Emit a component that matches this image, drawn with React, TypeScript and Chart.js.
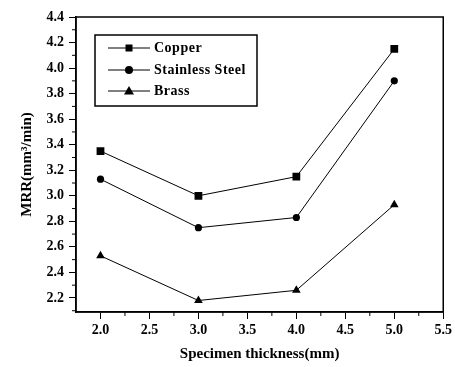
import React, { useEffect, useRef } from "react";
import { Chart, registerables } from "chart.js";

Chart.register(...registerables);

const thickness = [2.0, 3.0, 4.0, 5.0];
const copper = [3.35, 3.0, 3.15, 4.15];
const stainless = [3.13, 2.75, 2.83, 3.9];
const brass = [2.53, 2.18, 2.26, 2.93];
const seriesNames = ["Copper", "Stainless Steel", "Brass"];
const seriesStyles = ["rect", "circle", "triangle"];
const xTicks = [2.0, 2.5, 3.0, 3.5, 4.0, 4.5, 5.0, 5.5];
const yTicks = [2.2, 2.4, 2.6, 2.8, 3.0, 3.2, 3.4, 3.6, 3.8, 4.0, 4.2, 4.4];

const FONT = "'Liberation Serif', serif";

const decor = {
  id: "decor",
  afterDraw(chart: any) {
    const { ctx, chartArea: a, scales } = chart;
    ctx.save();
    ctx.strokeStyle = "#000";
    ctx.lineWidth = 1.5;
    ctx.strokeRect(a.left, a.top, a.right - a.left, a.bottom - a.top);
    // minor ticks
    ctx.lineWidth = 1;
    ctx.beginPath();
    for (let i = 0; i < xTicks.length - 1; i++) {
      const v = (xTicks[i] + xTicks[i + 1]) / 2;
      const px = scales.x.getPixelForValue(v);
      ctx.moveTo(px, a.bottom);
      ctx.lineTo(px, a.bottom + 4);
    }
    const ymin = scales.y.min;
    for (let v = 2.1; v < 4.45; v += 0.2) {
      if (v < ymin) continue;
      const py = scales.y.getPixelForValue(v);
      ctx.moveTo(a.left, py);
      ctx.lineTo(a.left - 4, py);
    }
    ctx.stroke();
    // legend
    const bx = 95, by = 35, bw = 162, bh = 71;
    ctx.lineWidth = 1.5;
    ctx.strokeRect(bx, by, bw, bh);
    const rows = [48, 70, 91];
    ctx.font = "bold 14px " + FONT;
    try { (ctx as any).letterSpacing = "0.5px"; } catch (e) {}
    ctx.textBaseline = "middle";
    ctx.fillStyle = "#000";
    rows.forEach((ry, i) => {
      ctx.lineWidth = 1;
      ctx.beginPath();
      ctx.moveTo(108, ry);
      ctx.lineTo(150, ry);
      ctx.stroke();
      const cx = 129;
      ctx.beginPath();
      if (i === 0) {
        ctx.rect(cx - 3.5, ry - 3.5, 7, 7);
      } else if (i === 1) {
        ctx.arc(cx, ry, 4, 0, Math.PI * 2);
      } else {
        ctx.moveTo(cx, ry - 5);
        ctx.lineTo(cx + 5, ry + 3.5);
        ctx.lineTo(cx - 5, ry + 3.5);
        ctx.closePath();
      }
      ctx.fill();
      ctx.fillText(seriesNames[i], 154, ry);
    });
    ctx.restore();
  },
};

export default function App() {
  const ref = useRef<HTMLCanvasElement>(null);
  useEffect(() => {
    const mk = (d: number[]) => thickness.map((x, i) => ({ x, y: d[i] }));
    const all = [copper, stainless, brass];
    const radii = [5.5, 3.6, 5];
    const chart = new Chart(ref.current!, {
      type: "line",
      data: {
        datasets: all.map((d, i) => ({
          label: seriesNames[i],
          data: mk(d),
          borderColor: "#000",
          backgroundColor: "#000",
          borderWidth: 1,
          pointStyle: seriesStyles[i] as any,
          pointRadius: radii[i],
          pointBorderWidth: 0,
          tension: 0,
        })),
      },
      options: {
        animation: false,
        responsive: false,
        layout: { padding: { top: 17, right: 11, left: 0, bottom: 0 } },
        plugins: { legend: { display: false }, tooltip: { enabled: false } },
        scales: {
          x: {
            type: "linear",
            min: 1.75,
            max: 5.5,
            afterBuildTicks: (s: any) => {
              s.ticks = xTicks.map((v) => ({ value: v }));
            },
            afterFit: (s: any) => {
              s.height = 55;
            },
            border: { color: "#000", width: 1.5 },
            grid: { drawOnChartArea: false, color: "#000", tickLength: 7, lineWidth: 1 },
            ticks: {
              color: "#000",
              font: { family: FONT, size: 14, weight: "bold" },
              callback: (v: any) => Number(v).toFixed(1),
              padding: 3,
              maxRotation: 0,
            },
            title: {
              display: true,
              text: "Specimen thickness(mm)",
              color: "#000",
              font: { family: FONT, size: 15, weight: "bold" },
              padding: { top: 4 },
            },
          },
          y: {
            type: "linear",
            min: 2.09,
            max: 4.4,
            afterBuildTicks: (s: any) => {
              s.ticks = yTicks.map((v) => ({ value: v }));
            },
            afterFit: (s: any) => {
              s.width = 76;
            },
            border: { color: "#000", width: 1.5 },
            grid: { drawOnChartArea: false, color: "#000", tickLength: 7, lineWidth: 1 },
            ticks: {
              color: "#000",
              font: { family: FONT, size: 14, weight: "bold" },
              callback: (v: any) => Number(v).toFixed(1),
              padding: 5,
            },
            title: {
              display: true,
              text: "MRR(mm³/min)",
              color: "#000",
              font: { family: FONT, size: 15, weight: "bold" },
              padding: { top: 18, bottom: 0 },
            },
          },
        },
      },
      plugins: [decor],
    });
    return () => chart.destroy();
  }, []);
  return (
    <div style={{ position: "absolute", left: 0, top: 0, width: 455, height: 367, background: "#fff" }}>
      <canvas ref={ref} width={455} height={367} />
    </div>
  );
}
